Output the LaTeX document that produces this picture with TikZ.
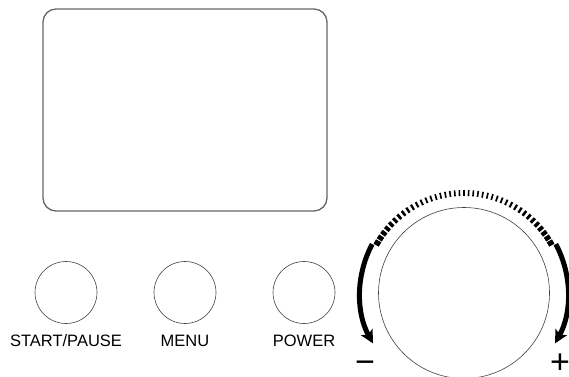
\documentclass[tikz,border=0pt]{standalone}
\usepackage{fontspec}
\usepackage{tikz}
\usetikzlibrary{arrows.meta}
\usetikzlibrary{positioning}
\newfontfamily\panelfont{Liberation Sans}

\begin{document}
\begin{tikzpicture}[x=1pt,y=1pt,
    screenbox/.style={draw=black!60, line width=1.3pt, rounded corners=13pt,
      minimum width=284pt, minimum height=202pt},
    button/.style={draw=black!75, line width=0.6pt, circle, inner sep=0pt, minimum size=62pt},
    btnlabel/.style={font=\panelfont\fontsize{16.5}{18}\selectfont, inner sep=0pt},
    signlabel/.style={font=\panelfont\fontsize{34}{36}\selectfont, inner sep=0pt},
    knobarrow/.style={line width=5pt, -{Stealth[length=13pt,width=13pt,inset=3pt]}}]
    \useasboundingbox (0,0) rectangle (569,376);
    \node[screenbox] (screen) at (185,266) {};
    \node[button] (start) at (66,83.5) {};
    \node[button] (menu) at (185,83.5) {};
    \node[button] (power) at (304,83.5) {};
    \node[btnlabel, below=11pt of start] {START/PAUSE};
    \node[btnlabel, below=11pt of menu] {MENU};
    \node[btnlabel, below=11pt of power] {POWER};
    \node[draw=black!75, line width=0.6pt, circle, inner sep=0pt, minimum size=171pt] (dial) at (464,83) {};
    % scale ticks, getting wider towards both ends
    \foreach \n in {-20,...,20} {
      \pgfmathsetmacro\a{90-(2.6*\n+0.02*\n*abs(\n))}
      \pgfmathsetmacro\w{1.6+3.4*(abs(\n)/20)^3}
      \draw[line width=\w pt] ([shift={(\a:97pt)}]dial.center) -- ([shift={(\a:103pt)}]dial.center);
    }
    \draw[knobarrow] ([shift={(152:104pt)}]dial.center) arc[start angle=152, end angle=209, radius=104pt];
    \draw[knobarrow] ([shift={(28:104pt)}]dial.center) arc[start angle=28, end angle=-29, radius=104pt];
    \node[signlabel] (minus) at (365,9) {−};
    \node[signlabel] (plus) at (560,12) {+};
  \end{tikzpicture}
\end{document}
